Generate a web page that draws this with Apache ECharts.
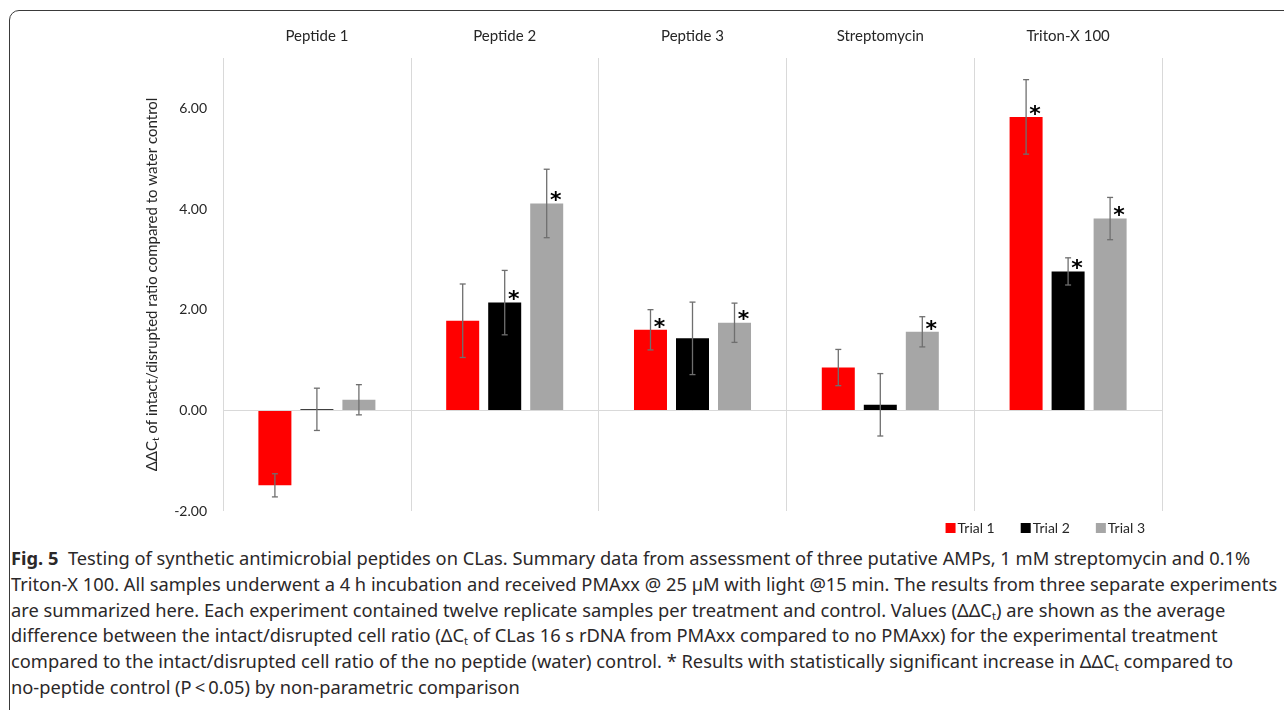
<!DOCTYPE html>
<html>
<head>
<meta charset="utf-8">
<script src="https://cdn.jsdelivr.net/npm/echarts@6/dist/echarts.min.js"></script>
<style>
  html, body { margin: 0; padding: 0; background: #fff; }
  body { width: 1284px; height: 710px; position: relative; overflow: hidden; }
  #frame {
    position: absolute; left: 9px; top: 10px; width: 1400px; height: 800px;
    border: 1px solid #3a3a3a; border-radius: 10px; box-sizing: border-box;
  }
  #chart { position: absolute; left: 0; top: 0; width: 1284px; height: 545px; }
  #caption {
    position: absolute; left: 11px; top: 545px;
    font-family: "Noto Sans", "Open Sans", sans-serif; font-size: 18.3px; color: #2b2829;
    line-height: 25.8px;
  }
  #caption div { white-space: nowrap; }
  #caption sub { font-size: 11px; vertical-align: -3px; line-height: 0; }
</style>
</head>
<body>
<div id="frame"></div>
<div id="chart"></div>
<div id="caption">
  <div><b>Fig. 5</b>&nbsp; Testing of synthetic antimicrobial peptides on CLas. Summary data from assessment of three putative AMPs, 1 mM streptomycin and 0.1%</div>
  <div>Triton-X 100. All samples underwent a 4 h incubation and received PMAxx @ 25 µM with light @15 min. The results from three separate experiments</div>
  <div>are summarized here. Each experiment contained twelve replicate samples per treatment and control. Values (ΔΔC<sub>t</sub>) are shown as the average</div>
  <div>difference between the intact/disrupted cell ratio (ΔC<sub>t</sub> of CLas 16 s rDNA from PMAxx compared to no PMAxx) for the experimental treatment</div>
  <div>compared to the intact/disrupted cell ratio of the no peptide (water) control. * Results with statistically significant increase in ΔΔC<sub>t</sub> compared to</div>
  <div>no-peptide control (P&thinsp;&lt;&thinsp;0.05) by non-parametric comparison</div>
</div>
<script>
// Treatments (x categories)
const categories = ['Peptide 1', 'Peptide 2', 'Peptide 3', 'Streptomycin', 'Triton-X 100'];

// Mean ΔΔCt per trial
const trial1Mean = [-1.49, 1.78, 1.60, 0.85, 5.83];
const trial2Mean = [0.02, 2.14, 1.43, 0.11, 2.76];
const trial3Mean = [0.21, 4.11, 1.74, 1.56, 3.81];

// Error bar half-lengths per trial
const trial1Err = [0.23, 0.73, 0.40, 0.36, 0.74];
const trial2Err = [0.42, 0.64, 0.72, 0.62, 0.27];
const trial3Err = [0.30, 0.68, 0.39, 0.30, 0.42];

// Significant increase vs. no-peptide control (marked with *)
const trial1Sig = [false, false, true, false, true];
const trial2Sig = [false, true, false, false, true];
const trial3Sig = [false, true, true, true, true];

// Value axis ticks
const yMin = -2;
const yMax = 7;
const yStep = 2;

const trialNames = ['Trial 1', 'Trial 2', 'Trial 3'];
const trialColors = ['#ff0000', '#000000', '#a6a6a6'];
const trials = [
  { mean: trial1Mean, err: trial1Err, sig: trial1Sig },
  { mean: trial2Mean, err: trial2Err, sig: trial2Sig },
  { mean: trial3Mean, err: trial3Err, sig: trial3Sig }
];

const BAR_W = 33;
const BAR_GAP = 9;
const FONT = 'Lato, "Open Sans", sans-serif';

const chart = echarts.init(document.getElementById('chart'), null, { renderer: 'canvas' });

const barSeries = trials.map((t, k) => ({
  name: trialNames[k],
  type: 'bar',
  barWidth: BAR_W,
  barGap: (BAR_GAP / BAR_W * 100).toFixed(1) + '%',
  itemStyle: { color: trialColors[k] },
  data: t.mean.map((v, i) => ({
    value: v,
    label: {
      show: t.sig[i],
      formatter: '*',
      position: 'top',
      distance: 0,
      offset: [9, 9],
      fontSize: 22,
      fontWeight: 'bold',
      fontFamily: 'DejaVu Sans',
      color: '#000'
    }
  })),
  markLine: k === 0 ? {
    silent: true,
    symbol: 'none',
    label: { show: false },
    lineStyle: { color: '#d9d9d9', width: 1, type: 'solid' },
    data: [{ yAxis: 0 }]
  } : undefined,
  z: 2
}));

const errSeries = trials.map((t, k) => ({
  name: trialNames[k] + ' error',
  type: 'custom',
  z: 5,
  silent: true,
  data: t.mean.map((v, i) => [i, v, t.err[i]]),
  renderItem: function (params, api) {
    const idx = api.value(0);
    const mean = api.value(1);
    const err = api.value(2);
    const shift = (k - 1) * (BAR_W + BAR_GAP);
    const hi = api.coord([idx, mean + err]);
    const lo = api.coord([idx, mean - err]);
    const x = hi[0] + shift;
    const cap = 3;
    const style = { stroke: '#6f6f6f', lineWidth: 1.3 };
    return {
      type: 'group',
      children: [
        { type: 'line', shape: { x1: x, y1: hi[1], x2: x, y2: lo[1] }, style },
        { type: 'line', shape: { x1: x - cap, y1: hi[1], x2: x + cap, y2: hi[1] }, style },
        { type: 'line', shape: { x1: x - cap, y1: lo[1], x2: x + cap, y2: lo[1] }, style }
      ]
    };
  }
}));

chart.setOption({
  animation: false,
  textStyle: { fontFamily: FONT },
  grid: { left: 223, right: 122, top: 58, bottom: 34, containLabel: false },
  legend: {
    data: trialNames,
    right: 134,
    bottom: 5,
    icon: 'rect',
    itemWidth: 10,
    itemHeight: 10,
    itemGap: 26,
    textStyle: { fontFamily: FONT, fontSize: 14, color: '#262626', padding: [0, 0, 0, -3] }
  },
  xAxis: {
    type: 'category',
    position: 'top',
    data: categories,
    axisLine: { show: false },
    axisTick: { show: false },
    axisLabel: { fontSize: 15, color: '#262626', margin: 14, fontFamily: FONT },
    splitLine: { show: true, lineStyle: { color: '#d9d9d9', width: 1 } }
  },
  yAxis: {
    type: 'value',
    min: yMin,
    max: yMax,
    interval: yStep,
    axisLine: { show: false },
    axisTick: { show: false },
    splitLine: { show: false },
    axisLabel: {
      fontSize: 14, color: '#262626', margin: 16, fontFamily: FONT,
      showMaxLabel: false,
      formatter: v => (v === yMax ? '' : v.toFixed(2))
    },
    name: '{a|ΔΔC}{s|t}{a| of intact/disrupted ratio compared to water control}',
    nameLocation: 'middle',
    nameGap: 62,
    nameRotate: 90,
    nameTextStyle: {
      rich: {
        a: { fontSize: 15, color: '#262626', fontFamily: FONT, lineHeight: 18 },
        s: { fontSize: 10, color: '#262626', fontFamily: FONT, lineHeight: 18, padding: [7, 0, 0, 0] }
      }
    }
  },
  series: [...barSeries, ...errSeries]
});
</script>
</body>
</html>
